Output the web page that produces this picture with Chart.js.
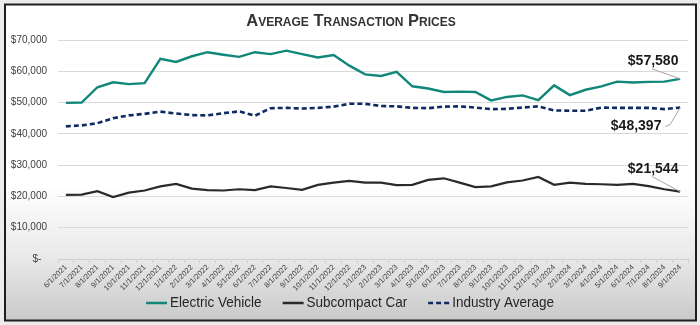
<!DOCTYPE html>
<html>
<head>
<meta charset="utf-8">
<script src="https://cdn.jsdelivr.net/npm/chart.js@4/dist/chart.umd.min.js"></script>
<style>
  html, body { margin: 0; padding: 0; background: #ececec; }
  canvas { display: block; }
</style>
</head>
<body>
<canvas id="chart" width="700" height="325"></canvas>
<script>
// Monthly average transaction prices, June 2021 - September 2024
const chartTitle = 'Average Transaction Prices';

const months = [
  '6/1/2021', '7/1/2021', '8/1/2021', '9/1/2021', '10/1/2021', '11/1/2021', '12/1/2021',
  '1/1/2022', '2/1/2022', '3/1/2022', '4/1/2022', '5/1/2022', '6/1/2022', '7/1/2022',
  '8/1/2022', '9/1/2022', '10/1/2022', '11/1/2022', '12/1/2022',
  '1/1/2023', '2/1/2023', '3/1/2023', '4/1/2023', '5/1/2023', '6/1/2023', '7/1/2023',
  '8/1/2023', '9/1/2023', '10/1/2023', '11/1/2023', '12/1/2023',
  '1/1/2024', '2/1/2024', '3/1/2024', '4/1/2024', '5/1/2024', '6/1/2024', '7/1/2024',
  '8/1/2024', '9/1/2024'
];

const electricVehicle = [
  49900, 50000, 54900, 56500, 55900, 56200, 64000,
  63000, 64800, 66100, 65300, 64600, 66100, 65500,
  66600, 65500, 64400, 65200, 61800,
  59000, 58500, 59800, 55200, 54500, 53400, 53500,
  53400, 50700, 51800, 52300, 50800,
  55500, 52400, 54100, 55200, 56700, 56400, 56600,
  56700, 57580
];

const subcompactCar = [
  20500, 20600, 21700, 19800, 21200, 21900, 23200,
  24000, 22500, 22000, 21900, 22300, 22000, 23200,
  22700, 22100, 23700, 24400, 25000,
  24400, 24400, 23600, 23700, 25300, 25800, 24400,
  23000, 23200, 24500, 25100, 26200,
  23700, 24400, 24000, 23900, 23700, 24000, 23300,
  22300, 21544
];

const industryAverage = [
  42400, 42700, 43400, 45000, 45900, 46400, 47100,
  46500, 46000, 45900, 46600, 47200, 45800, 48200,
  48300, 48100, 48300, 48700, 49600,
  49600, 48900, 48800, 48300, 48200, 48700, 48800,
  48400, 47900, 48000, 48400, 48800,
  47500, 47400, 47400, 48400, 48300, 48300, 48300,
  47900, 48397
];

const yTicks = { min: 0, max: 70000, step: 10000 };

const fmtMoney = v => '$' + Math.round(v).toLocaleString('en-US');

// Panel background: light frame with a soft grey fade toward the bottom
const panelBackground = {
  id: 'panelBackground',
  beforeDraw(chart) {
    const { ctx, width, height } = chart;
    ctx.save();
    ctx.fillStyle = '#ececec';
    ctx.fillRect(0, 0, width, height);
    const g = ctx.createLinearGradient(0, 0, 0, 321);
    g.addColorStop(0, '#ffffff');
    g.addColorStop(0.58, '#ffffff');
    g.addColorStop(0.8, '#e9e9e9');
    g.addColorStop(1, '#c9c9c9');
    ctx.fillStyle = g;
    ctx.fillRect(5, 4, 691, 317);
    ctx.strokeStyle = '#1e1e1e';
    ctx.lineWidth = 2;
    ctx.strokeRect(5, 4.5, 691, 316);
    ctx.restore();
  }
};

// Title drawn in small caps: capitals large, the rest as smaller capitals
const smallCapsTitle = {
  id: 'smallCapsTitle',
  afterDraw(chart) {
    const { ctx } = chart;
    const family = '"Liberation Sans", Arial, sans-serif';
    const big = 'bold 16.5px ' + family;
    const small = 'bold 12px ' + family;
    ctx.save();
    const parts = [...chartTitle].map(ch => {
      const isCap = ch === ch.toUpperCase();
      return { text: ch.toUpperCase(), font: isCap ? big : small };
    });
    let total = 0;
    parts.forEach(p => { ctx.font = p.font; p.w = ctx.measureText(p.text).width; total += p.w; });
    let x = 351 - total / 2;
    ctx.fillStyle = '#333333';
    ctx.textBaseline = 'alphabetic';
    ctx.textAlign = 'left';
    parts.forEach(p => { ctx.font = p.font; ctx.fillText(p.text, x, 26); x += p.w; });
    ctx.restore();
  }
};

// End-of-series value callouts with thin leader lines
const endLabels = {
  id: 'endLabels',
  afterDatasetsDraw(chart) {
    const { ctx } = chart;
    ctx.save();
    chart.data.datasets.forEach((ds, i) => {
      const meta = chart.getDatasetMeta(i);
      const last = meta.data[meta.data.length - 1];
      const c = ds.callout;
      const px = last.x, py = last.y;
      ctx.strokeStyle = '#a8a8a8';
      ctx.lineWidth = 1;
      ctx.setLineDash([]);
      ctx.beginPath();
      ctx.moveTo(px + c.leader[0][0], py + c.leader[0][1]);
      for (let k = 1; k < c.leader.length; k++) ctx.lineTo(px + c.leader[k][0], py + c.leader[k][1]);
      ctx.lineTo(px, py);
      ctx.stroke();
      ctx.font = 'bold 14px "Liberation Sans", Arial, sans-serif';
      ctx.fillStyle = '#1a1a1a';
      ctx.textAlign = 'center';
      ctx.textBaseline = 'middle';
      ctx.fillText(fmtMoney(ds.data[ds.data.length - 1]), px + c.dx, py + c.dy);
    });
    ctx.restore();
  }
};

// Legend along the bottom with line swatches; text set slightly condensed
const bottomLegend = {
  id: 'bottomLegend',
  afterDraw(chart) {
    const { ctx } = chart;
    ctx.save();
    const squeeze = 0.9;
    ctx.font = '15px "Liberation Sans", Arial, sans-serif';
    const sw = 21, gapText = 3, gapItem = 21;
    const items = chart.data.datasets.map(ds => ({ ds, w: ctx.measureText(ds.label).width * squeeze }));
    let total = 0;
    items.forEach((it, i) => { total += sw + gapText + it.w + (i ? gapItem : 0); });
    let x = 350 - total / 2;
    const y = 303;
    items.forEach(it => {
      ctx.strokeStyle = it.ds.borderColor;
      ctx.lineWidth = 2.5;
      ctx.setLineDash(it.ds.borderDash || []);
      ctx.beginPath();
      ctx.moveTo(x, y);
      ctx.lineTo(x + sw, y);
      ctx.stroke();
      ctx.setLineDash([]);
      ctx.fillStyle = '#262626';
      ctx.textAlign = 'left';
      ctx.textBaseline = 'middle';
      ctx.save();
      ctx.translate(x + sw + gapText, y);
      ctx.scale(squeeze, 1);
      ctx.fillText(it.ds.label, 0, 0);
      ctx.restore();
      x += sw + gapText + it.w + gapItem;
    });
    ctx.restore();
  }
};

new Chart(document.getElementById('chart'), {
  type: 'line',
  data: {
    labels: months,
    datasets: [
      {
        label: 'Electric Vehicle',
        data: electricVehicle,
        borderColor: '#11877a',
        borderWidth: 2.4,
        callout: { dx: -27, dy: -18, leader: [[-28, -10]] }
      },
      {
        label: 'Subcompact Car',
        data: subcompactCar,
        borderColor: '#2a2a2a',
        borderWidth: 2.2,
        callout: { dx: -27, dy: -22, leader: [[-28, -15]] }
      },
      {
        label: 'Industry Average',
        data: industryAverage,
        borderColor: '#0f2a63',
        borderWidth: 2.6,
        borderDash: [5, 3],
        callout: { dx: -44, dy: 19, leader: [[-15, 19], [-10, 17]] }
      }
    ]
  },
  options: {
    responsive: false,
    animation: false,
    events: [],
    elements: { point: { radius: 0 }, line: { tension: 0, fill: false } },
    layout: { padding: { left: 0, right: 12, top: 40, bottom: 26 } },
    plugins: { legend: { display: false }, title: { display: false }, tooltip: { enabled: false } },
    scales: {
      x: {
        type: 'category',
        offset: true,
        grid: { display: true, drawOnChartArea: false, drawTicks: true, tickLength: 4, color: '#cfcfcf', offset: true },
        border: { display: true, color: '#cfcfcf', width: 1 },
        ticks: {
          autoSkip: false, minRotation: 45, maxRotation: 45, padding: 0,
          color: '#3c3c3c',
          font: { family: '"Liberation Sans", Arial, sans-serif', size: 7.5 }
        },
        afterFit(scale) { scale.height = 40; }
      },
      y: {
        min: yTicks.min,
        max: yTicks.max,
        grid: { color: '#d9d9d9', lineWidth: 1, drawTicks: false },
        border: { display: false },
        ticks: {
          stepSize: yTicks.step,
          padding: 11,
          color: '#404040',
          font: { family: '"Liberation Sans", Arial, sans-serif', size: 10 },
          callback: v => v === 0 ? '$-  ' : fmtMoney(v)
        },
        afterFit(scale) { scale.width = 58; }
      }
    }
  },
  plugins: [panelBackground, smallCapsTitle, endLabels, bottomLegend]
});
</script>
</body>
</html>
